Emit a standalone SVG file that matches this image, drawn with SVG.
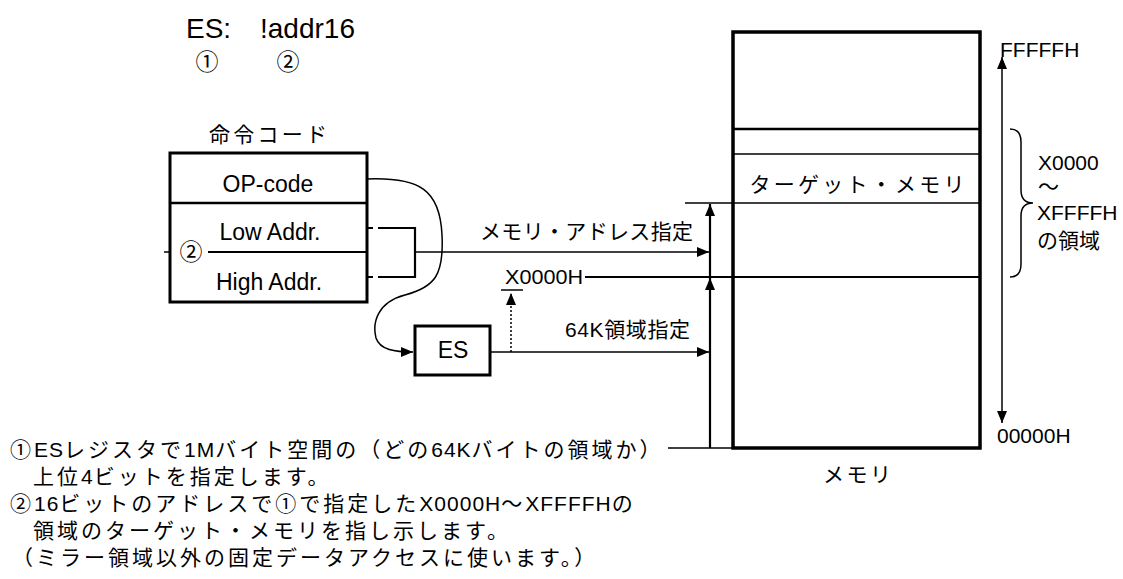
<svg xmlns="http://www.w3.org/2000/svg" width="1123" height="579" viewBox="0 0 1123 579">
<defs>
<style>
text{font-family:"Liberation Sans","Noto Sans CJK JP",sans-serif;fill:#000}
.lat{font-size:23px}
.jp{font-size:21px}
.sm{font-size:21px}
.box{fill:#fff;stroke:#000;stroke-width:3}
.ln{fill:none;stroke:#000;stroke-width:1.5}
.thk{fill:none;stroke:#000;stroke-width:2.2}
.note{font-size:21px;letter-spacing:3px}
.note tspan{letter-spacing:1px}
</style>
<marker id="ah" viewBox="0 0 12 10" refX="12" refY="5" markerWidth="12" markerHeight="10" markerUnits="userSpaceOnUse" orient="auto-start-reverse"><path d="M0,0 L12,5 L0,10 z" fill="#000"/></marker>
</defs>
<rect width="1123" height="579" fill="#fff"/>

<g id="syntax">
<text x="186" y="38" font-size="28">ES:</text>
<text x="260" y="38" font-size="28">!addr16</text>
<text x="207" y="70" font-size="23" text-anchor="middle">①</text>
<text x="288" y="70" font-size="23" text-anchor="middle">②</text>
</g>

<g id="instruction">
<text x="268" y="142" class="jp" text-anchor="middle" textLength="118" lengthAdjust="spacing">命令コード</text>
<rect x="170" y="153" width="197" height="149" class="box"/>
<line x1="170" y1="203" x2="367" y2="203" stroke="#000" stroke-width="2.5"/>
<line x1="208" y1="252" x2="367" y2="252" stroke="#000" stroke-width="1.8"/>
<line x1="164" y1="252" x2="170" y2="252" stroke="#000" stroke-width="1.5"/>
<text x="268" y="192" class="lat" text-anchor="middle">OP-code</text>
<text x="270" y="240" class="lat" text-anchor="middle">Low Addr.</text>
<text x="269" y="290" class="lat" text-anchor="middle">High Addr.</text>
<text x="191" y="260" font-size="23" text-anchor="middle">②</text>
</g>

<g id="es">
<rect x="415" y="326" width="75" height="49" class="box"/>
<text x="453" y="358" class="lat" text-anchor="middle">ES</text>
</g>

<g id="memory">
<rect x="733" y="32" width="247" height="416" fill="#fff" stroke="#000" stroke-width="3.5"/>
<line x1="733" y1="129" x2="980" y2="129" stroke="#000" stroke-width="2.5"/>
<line x1="733" y1="154" x2="980" y2="154" stroke="#000" stroke-width="1.5"/>
<text x="857" y="192" class="jp" font-size="22" text-anchor="middle" textLength="215" lengthAdjust="spacing">ターゲット・メモリ</text>
<text x="857" y="482" class="jp" text-anchor="middle" textLength="68" lengthAdjust="spacing">メモリ</text>
</g>

<g id="addresses">
<text x="1000" y="57" class="sm">FFFFFH</text>
<text x="997" y="443" class="sm">00000H</text>
<text x="1038" y="170" class="sm">X0000</text>
<text x="1038" y="194" class="sm">～</text>
<text x="1037" y="220" class="sm">XFFFFH</text>
<text x="1037" y="248" class="jp">の領域</text>
</g>

<g id="labels">
<text x="480" y="239" class="jp" textLength="213" lengthAdjust="spacing">メモリ・アドレス指定</text>
<text x="565" y="337" class="jp" textLength="125" lengthAdjust="spacing">64K領域指定</text>
<text x="505" y="284" class="sm" textLength="78" lengthAdjust="spacingAndGlyphs">X0000H</text>
</g>

<g id="connectors">
<path d="M367,179 C420,177 440,190 442,235 C444,275 435,287 405,295 C378,302 372,322 376,338 C380,350 395,352 413,352" class="ln" stroke-width="2" marker-end="url(#ah)"/>
<path d="M367,228 H373 M378,228 H415 V277 H378 M373,277 H367" class="thk"/>
<path d="M415,252 H709" class="ln" stroke-width="1.3" marker-end="url(#ah)"/>
<path d="M490,352 H709" class="ln" stroke-width="1.3" marker-end="url(#ah)"/>
<path d="M511,352 V293" class="ln" stroke-width="1.5" stroke-dasharray="2,2" marker-end="url(#ah)"/>
<path d="M501,290 H523" class="ln"/>
<path d="M585,277 H980" class="thk"/>
<path d="M685,203 H980" class="ln" stroke-width="1.8"/>
<path d="M668,448 H733" class="ln"/>
<path d="M710,277 V204" class="thk" marker-end="url(#ah)"/>
<path d="M710,448 V278" class="thk" marker-end="url(#ah)"/>
<path d="M1002,423 V57" class="ln" marker-start="url(#ah)" marker-end="url(#ah)"/>
<path d="M1010,129 Q1021,129 1021,142 L1021,190 Q1021,203 1033,203 Q1021,203 1021,216 L1021,264 Q1021,277 1010,277" class="ln"/>
</g>

<g id="notes">
<text x="10" y="457" class="note">①<tspan>ES</tspan>レジスタで<tspan>1M</tspan>バイト空間の（どの<tspan>64K</tspan>バイトの領域か）</text>
<text x="33" y="484" class="note">上位<tspan>4</tspan>ビットを指定します。</text>
<text x="10" y="511" class="note">②<tspan>16</tspan>ビットのアドレスで①で指定した<tspan>X0000H</tspan>〜<tspan>XFFFFH</tspan>の</text>
<text x="33" y="538" class="note">領域のターゲット・メモリを指し示します。</text>
<text x="12" y="565" class="note">（ミラー領域以外の固定データアクセスに使います。）</text>
</g>
</svg>
